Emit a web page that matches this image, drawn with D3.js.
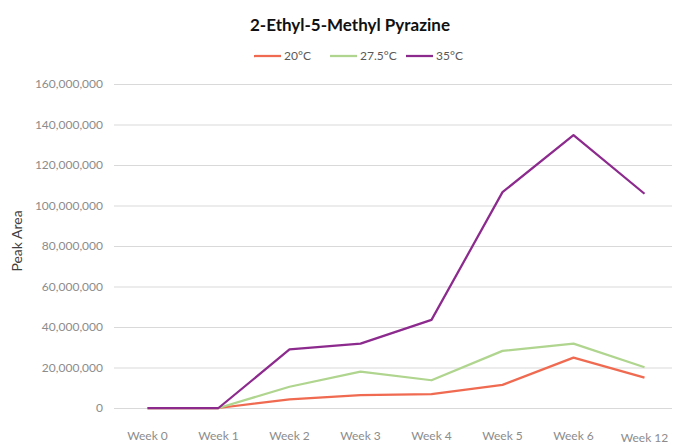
<!DOCTYPE html>
<html>
<head>
<meta charset="utf-8">
<script src="https://cdn.jsdelivr.net/npm/d3@7"></script>
<style>
  body { margin: 0; background: #fff; }
  svg { display: block; font-family: Lato, "Open Sans", sans-serif; }
</style>
</head>
<body>
<div id="chart"></div>
<script>
// Chart size
const width = 674;
const height = 445;

// Data
const weeks = ["Week 0", "Week 1", "Week 2", "Week 3", "Week 4", "Week 5", "Week 6", "Week 12"];
const seriesNames = ["20°C", "27.5°C", "35°C"];
const seriesColors = ["#EF6A50", "#AFD58E", "#8C2A8E"];
const values20 = [0, 0, 4300000, 6300000, 6900000, 11400000, 24900000, 15000000];
const values275 = [0, 0, 10500000, 18000000, 13700000, 28200000, 31800000, 20100000];
const values35 = [0, 0, 28900000, 31800000, 43500000, 106600000, 134700000, 105800000];
const yTicks = [0, 20000000, 40000000, 60000000, 80000000, 100000000, 120000000, 140000000, 160000000];

const series = [values20, values275, values35].map((vals, i) => ({
    name: seriesNames[i],
    color: seriesColors[i],
    values: vals
}));

const svg = d3.select("#chart").append("svg")
    .attr("width", width)
    .attr("height", height);

const x = d3.scalePoint()
    .domain(weeks)
    .range([112, 680])
    .padding(0.5);

const y = d3.scaleLinear()
    .domain([0, 160000000])
    .range([408, 84]);

// Gridlines
svg.append("g")
    .selectAll("line")
    .data(yTicks)
    .join("line")
    .attr("x1", 114)
    .attr("x2", 672)
    .attr("y1", d => y(d) + 0.5)
    .attr("y2", d => y(d) + 0.5)
    .attr("stroke", "#d9d9d9")
    .attr("stroke-width", 1);

// Y tick labels
svg.append("g")
    .attr("font-size", 12)
    .attr("fill", "#8c8c8c")
    .attr("text-anchor", "end")
    .selectAll("text")
    .data(yTicks)
    .join("text")
    .attr("x", 103)
    .attr("y", d => y(d) + 4)
    .text(d => d3.format(",")(d));

// X tick labels (the last one sits a little lower, as in the original)
svg.append("g")
    .attr("font-size", 12)
    .attr("fill", "#8c8c8c")
    .attr("text-anchor", "middle")
    .selectAll("text")
    .data(weeks)
    .join("text")
    .attr("x", d => x(d))
    .attr("y", (d, i) => i === weeks.length - 1 ? 442 : 440)
    .text(d => d);

// Lines
const line = d3.line()
    .x((d, i) => x(weeks[i]))
    .y(d => y(d));

svg.append("g")
    .selectAll("path")
    .data(series)
    .join("path")
    .attr("fill", "none")
    .attr("stroke", d => d.color)
    .attr("stroke-width", 2.25)
    .attr("stroke-linejoin", "round")
    .attr("d", d => line(d.values));

// Title
svg.append("text")
    .attr("x", 350)
    .attr("y", 31)
    .attr("text-anchor", "middle")
    .attr("font-size", 17)
    .attr("font-weight", "bold")
    .attr("fill", "#111")
    .text("2-Ethyl-5-Methyl Pyrazine");

// Y axis title
svg.append("text")
    .attr("transform", "translate(22,241) rotate(-90)")
    .attr("text-anchor", "middle")
    .attr("font-size", 14)
    .attr("fill", "#404040")
    .text("Peak Area");

// Legend
const legendX = [254, 330, 406];
const legend = svg.append("g")
    .selectAll("g")
    .data(series)
    .join("g")
    .attr("transform", (d, i) => `translate(${legendX[i]},56)`);

legend.append("line")
    .attr("x1", 0)
    .attr("x2", 27)
    .attr("stroke", d => d.color)
    .attr("stroke-width", 2.25);

legend.append("text")
    .attr("x", 30)
    .attr("y", 4)
    .attr("font-size", 12)
    .attr("fill", "#595959")
    .text(d => d.name);
</script>
</body>
</html>
